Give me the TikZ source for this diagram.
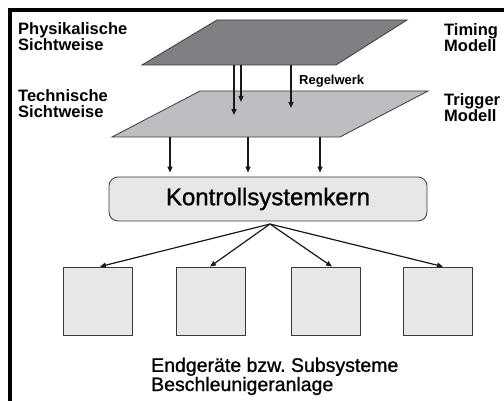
\documentclass[tikz,border=0pt]{standalone}
\usepackage{fontspec}
\setmainfont{Liberation Sans}
\newfontfamily\heavysans{Liberation Sans}[FakeBold=1.0]
\usetikzlibrary{arrows.meta}
\definecolor{planedark}{HTML}{7F8083}
\definecolor{planelight}{HTML}{BDBEC1}
\definecolor{boxfill}{HTML}{E6E7E8}
\definecolor{edgegray}{HTML}{3A3A3A}
\begin{document}
\begin{tikzpicture}[x=1pt,y=-1pt,
  sidelabel/.style={anchor=north west, inner sep=0pt, align=left,
    font=\fontsize{16.5}{16}\selectfont\bfseries},
  plane/.style={draw=edgegray, line width=0.8pt, line join=miter},
  arr/.style={draw=black!90, line width=1.2pt, -{Triangle[length=6pt,width=5pt]}},
  kernbox/.style={draw=edgegray, line width=0.8pt, fill=boxfill, rounded corners=9pt,
    minimum width=318pt, minimum height=44pt, inner sep=0pt,
    font=\heavysans\fontsize{24}{24}\selectfont},
  unitbox/.style={draw=edgegray, line width=0.8pt, fill=boxfill,
    minimum width=69pt, minimum height=68pt, inner sep=0pt}
]
\useasboundingbox (0,0) rectangle (504,401);

% frame
\draw[line width=4pt] (504,10) -- (10,10) -- (10,401);

% the two view planes
\filldraw[plane, fill=planelight] (200,91) -- (428,91) -- (340,137) -- (112,137) -- cycle;
\filldraw[plane, fill=planedark] (217,20) -- (407,20) -- (336,65) -- (142,65) -- cycle;

% side labels
\node[sidelabel] (phys) at (18,22) {Physikalische\\Sichtweise};
\node[sidelabel] (tech) at (18,89) {Technische\\Sichtweise};
\node[sidelabel] (timing) at (444,23) {Timing\\Modell};
\node[sidelabel] (trigger) at (444,93) {Trigger\\Modell};
\node[anchor=base west, inner sep=0pt, font=\fontsize{13}{13}\selectfont\bfseries]
  (regel) at (299,85) {Regelwerk};

% rules from the physical onto the technical plane
\coordinate (t1) at (234,65); \coordinate (e1) at (234,115);
\coordinate (t2) at (241,65); \coordinate (e2) at (241,102);
\coordinate (t3) at (291,65); \coordinate (e3) at (291,108);
\draw[arr] (t1) -- (e1);
\draw[arr] (t2) -- (e2);
\draw[arr] (t3) -- (e3);

% control system core
\node[kernbox] (kern) at (268,199) {Kontrollsystemkern};

\coordinate (s1) at (170,137);
\coordinate (s2) at (248,137);
\coordinate (s3) at (320,137);
\draw[arr, shorten >=4pt] (s1) -- (s1 |- kern.north);
\draw[arr, shorten >=4pt] (s2) -- (s2 |- kern.north);
\draw[arr, shorten >=4pt] (s3) -- (s3 |- kern.north);

% end devices
\node[unitbox] (b1) at (97.5,301) {};
\node[unitbox] (b2) at (211,301) {};
\node[unitbox] (b3) at (326,301) {};
\node[unitbox] (b4) at (437.5,301) {};

\coordinate (fan) at (270,224);
\draw[arr] (fan) -- ([xshift=2.5pt]b1.north);
\draw[arr] (fan) -- ([xshift=-1pt]b2.north);
\draw[arr] (fan) -- ([xshift=6pt]b3.north);
\draw[arr] (fan) -- ([xshift=5.5pt]b4.north);

\node[anchor=north west, inner sep=0pt, align=left,
  font=\heavysans\fontsize{19.5}{15.5}\selectfont] (caption) at (151,357.5)
  {Endgeräte bzw.\ Subsysteme\\Beschleunigeranlage};
\end{tikzpicture}
\end{document}
